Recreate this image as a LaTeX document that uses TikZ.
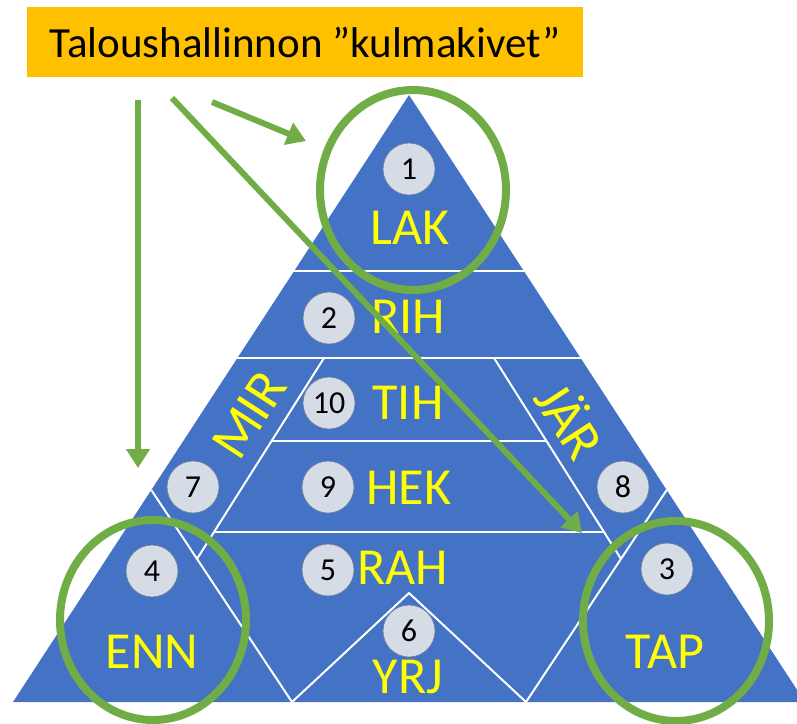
\documentclass[tikz,border=0pt]{standalone}
\usepackage{fontspec}
\setmainfont{Carlito}
\usetikzlibrary{arrows.meta,shapes.geometric}
\definecolor{pblue}{HTML}{4472C4}
\definecolor{pgreen}{HTML}{70AD47}
\definecolor{porange}{HTML}{FFC000}
\definecolor{pball}{HTML}{D6DCE5}
\definecolor{pedge}{HTML}{6F7F99}
\definecolor{pyel}{HTML}{FFFF00}

\tikzstyle{nb} = [circle, fill=pball, draw=pedge, line width=0.7pt, minimum size=52pt, inner sep=0pt, font=\fontsize{32}{32}\selectfont]
\tikzstyle{lb} = [text=pyel, inner sep=0pt, font=\fontsize{52}{52}\selectfont]
\tikzstyle{rg} = [ellipse, draw=pgreen, line width=8pt, minimum width=186pt, minimum height=200pt]
\tikzstyle{wl} = [draw=white, line width=2pt]
\tikzstyle{ar} = [draw=pgreen, line width=6pt, -{Triangle[length=19pt,width=23pt]}]

\begin{document}
\begin{tikzpicture}[x=1pt, y=-1pt]
  \useasboundingbox (0,0) rectangle (797,723);
  \clip (0,0) rectangle (797,723);

  \node[fill=porange, minimum width=556pt, minimum height=70pt,
        font=\fontsize{43}{43}\selectfont] (ttl) at (305,42) {Taloushallinnon ”kulmakivet”};

  \coordinate (top) at (409,95);
  \coordinate (bl) at (13,702);
  \coordinate (br) at (805,702);
  \fill[pblue] (top) -- (bl) -- (br) -- cycle;

  \coordinate (ennt) at (151.3,490);
  \coordinate (tapt) at (666.7,490);
  \coordinate (yl) at (292,702);
  \coordinate (yt) at (409,593);
  \coordinate (yr) at (526,702);
  \coordinate (il) at (324,358);
  \coordinate (ir) at (494,358);
  \coordinate (ilb) at (214,532);
  \coordinate (irb) at (604,532);

  \draw[wl] (294.2,271) -- (523.8,271);
  \draw[wl] (237.4,358) -- (580.6,358);
  \draw[wl] (il) -- (intersection of il--ilb and ennt--yl);
  \draw[wl] (ir) -- (intersection of ir--irb and tapt--yr);
  \draw[wl] (271.5,441) -- (546.5,441);
  \draw[wl] (ilb) -- (irb);
  \draw[wl] (ennt) -- (yl) -- (yt) -- (yr) -- (tapt);

  \node[nb] (n1) at (409,169) {1};
  \node[nb] (n2) at (329,318) {2};
  \node[nb] (n10) at (329,403) {10};
  \node[nb] (n9) at (328,487) {9};
  \node[nb] (n5) at (328,570) {5};
  \node[nb] (n6) at (409,631) {6};
  \node[nb] (n7) at (193,487) {7};
  \node[nb] (n4) at (152,571) {4};
  \node[nb] (n8) at (623,487) {8};
  \node[nb] (n3) at (667,569) {3};

  \node[lb] (lak) at (410,228) {LAK};
  \node[lb] (rih) at (408,317) {RIH};
  \node[lb] (tih) at (408,403) {TIH};
  \node[lb] (hek) at (409,488) {HEK};
  \node[lb] (rah) at (403,568) {RAH};
  \node[lb] (yrj) at (408,677) {YRJ};
  \node[lb] (enn) at (152,652) {ENN};
  \node[lb] (tap) at (665,652) {TAP};
  \node[lb, rotate=57, font=\fontsize{55}{55}\selectfont] (mir) at (249,415) {MIR};
  \node[lb, rotate=-57, font=\fontsize{55}{55}\selectfont] (jar) at (572,419) {JÄR};

  \node[rg] (rlak) at (413,190) {};
  \node[rg] (renn) at (153,620) {};
  \node[rg] (rtap) at (676,621) {};

  \coordinate (a1s) at (138,100);
  \coordinate (a1e) at (138,468);
  \coordinate (a2s) at (172,98);
  \coordinate (a2e) at (582,533);
  \coordinate (a3s) at (212,102);
  \coordinate (a3e) at (306,141);
  \draw[ar] (a1s) -- (a1e);
  \draw[ar] (a2s) -- (a2e);
  \draw[ar] (a3s) -- (a3e);
\end{tikzpicture}
\end{document}
